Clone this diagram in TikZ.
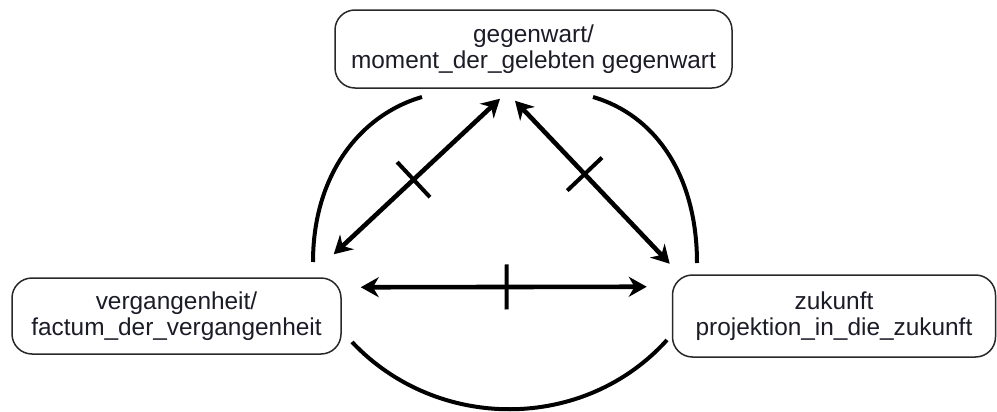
\documentclass[tikz,border=0pt]{standalone}
\usepackage{fontspec}
\setmainfont{Liberation Sans}
\usepackage[dvipsnames]{xcolor}
\definecolor{inkdark}{RGB}{28,28,40}
\definecolor{frame}{RGB}{40,40,40}
\usepackage{tikz}
\usetikzlibrary{calc,positioning,arrows.meta}

\begin{document}
\begin{tikzpicture}[
  x=0.5pt, y=-0.5pt,
  font=\fontsize{12.2pt}{13pt}\selectfont,
  zeitbox/.style={
    rectangle, draw=frame, fill=white, line width=0.75pt,
    rounded corners=10pt, align=center, text=inkdark,
    inner sep=0pt
  },
  pfeil/.style={{Stealth[length=9pt,width=10pt]}-{Stealth[length=9pt,width=10pt]},
    line width=2.3pt, black},
  bogen/.style={line width=2pt, black},
  strich/.style={sloped, draw=black, line width=2pt, fill=none,
    minimum width=0pt, inner sep=0pt}
]
\useasboundingbox (0,0) rectangle (997,412);

\node[zeitbox, minimum width=198.5pt, minimum height=39pt] (gegenwart) at (533.5,49)
  {gegenwart/\\moment\_der\_gelebten gegenwart};
\node[zeitbox, minimum width=164.5pt, minimum height=38pt] (vergangenheit) at (176.5,316)
  {vergangenheit/\\factum\_der\_vergangenheit};
\node[zeitbox, minimum width=161.5pt, minimum height=41pt] (zukunft) at (834,316)
  {zukunft\\projektion\_in\_die\_zukunft};

% the three arcs round the triangle
\draw[bogen] (313,262) .. controls (313,175) and (360,115) .. (422,97);
\draw[bogen] (593,97) .. controls (655,115) and (697,175) .. (697,263);
\draw[bogen] (352,342) .. controls (437,432) and (584,432) .. (667,340);

% crossed relations
\draw[pfeil] ([xshift=-4pt,yshift=11.5pt]vergangenheit.north east)
  -- node[strich, pos=0.48, minimum height=24pt] {}
  ([xshift=-16.75pt,yshift=-5pt]gegenwart.south);
\draw[pfeil] ([xshift=-9.25pt,yshift=-6pt]gegenwart.south)
  -- node[strich, pos=0.45, minimum height=24pt] {}
  ([xshift=-1pt,yshift=5.25pt]zukunft.north west);
\draw[pfeil] ([xshift=9.5pt,yshift=-5pt]vergangenheit.north east)
  -- node[strich, pos=0.51, minimum height=22.5pt] {}
  ([xshift=-12.5pt,yshift=-6.25pt]zukunft.north west);
\end{tikzpicture}
\end{document}
